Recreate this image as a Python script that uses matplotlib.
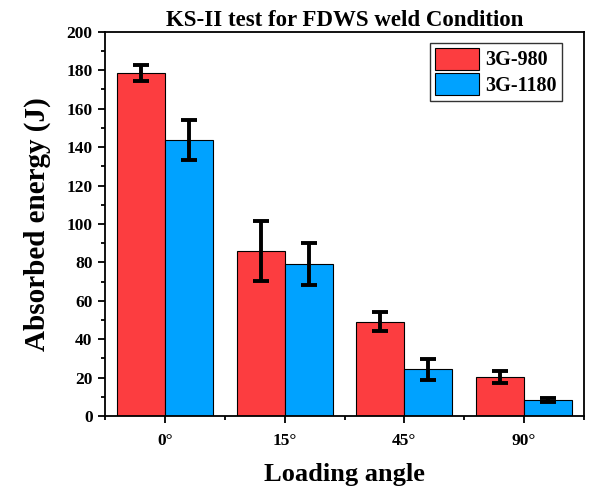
import matplotlib
matplotlib.use("Agg")
import matplotlib.pyplot as plt
from matplotlib.ticker import MultipleLocator
import numpy as np

angles = ["0°", "15°", "45°", "90°"]
series_names = ["3G-980", "3G-1180"]
energy_980 = [178.5, 86.0, 49.0, 20.3]
err_980 = [4.0, 15.5, 5.0, 3.0]
energy_1180 = [143.7, 79.0, 24.3, 8.4]
err_1180 = [10.5, 11.0, 5.5, 1.0]

plt.rcParams["font.family"] = ["Liberation Serif", "DejaVu Serif"]
plt.rcParams["font.weight"] = "bold"

fig = plt.figure(figsize=(5.95, 4.9), dpi=100)
ax = fig.add_axes([0.1765, 0.151, 0.805, 0.784])

x = np.arange(len(angles))
w = 0.4
err_kw = dict(ecolor="black", elinewidth=2.8, capsize=5.5, capthick=2.8)
ax.bar(x - w / 2, energy_980, w, yerr=err_980, color="#FC3D40",
       edgecolor="black", linewidth=0.8, label=series_names[0], error_kw=err_kw)
ax.bar(x + w / 2, energy_1180, w, yerr=err_1180, color="#00A2FF",
       edgecolor="black", linewidth=0.8, label=series_names[1], error_kw=err_kw)

ax.set_xlim(-0.5, 3.5)
ax.set_ylim(0, 200)
ax.set_xticks(x)
ax.set_xticklabels(angles)
ax.xaxis.set_minor_locator(MultipleLocator(0.5))
ax.yaxis.set_major_locator(MultipleLocator(20))
ax.yaxis.set_minor_locator(MultipleLocator(10))

ax.tick_params(axis="both", which="major", direction="out", length=5, width=1.3,
               labelsize=12.5)
ax.tick_params(axis="both", which="minor", direction="out", length=3, width=1.3)
ax.tick_params(axis="x", which="major", pad=7)
ax.tick_params(axis="y", which="major", pad=4)
for lbl in ax.get_xticklabels() + ax.get_yticklabels():
    lbl.set_fontweight("bold")
for sp in ax.spines.values():
    sp.set_linewidth(1.3)

ax.set_title("KS-II test for FDWS weld Condition", fontsize=16.5,
             fontweight="bold", pad=4)
ax.set_xlabel("Loading angle", fontsize=19, fontweight="bold", labelpad=10)
ax.set_ylabel("Absorbed energy (J)", fontsize=21, fontweight="bold", labelpad=11)

leg = ax.legend(loc="upper right", bbox_to_anchor=(0.954, 0.972),
                frameon=True, fancybox=False, edgecolor="black",
                handlelength=2.2, handleheight=1.3, borderpad=0.25,
                labelspacing=0.12, handletextpad=0.3, borderaxespad=0.0,
                prop={"weight": "bold", "size": 14.5})
leg.get_frame().set_linewidth(1.0)

fig.savefig("out.png", dpi=100)
